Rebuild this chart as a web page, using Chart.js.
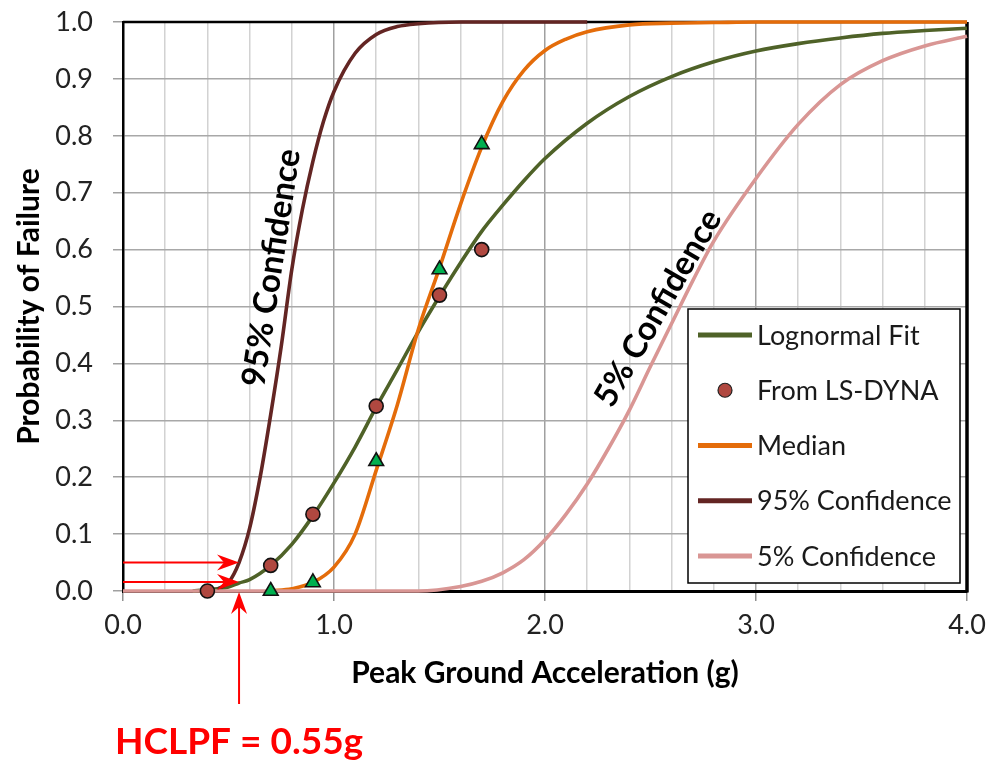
<!DOCTYPE html>
<html><head><meta charset="utf-8">
<script src="https://cdn.jsdelivr.net/npm/chart.js@4.4.0/dist/chart.umd.min.js"></script>
<style>html,body{margin:0;padding:0;background:#fff;}#wrap{width:992px;height:760px;}</style>
</head><body><div id="wrap"><canvas id="c" width="992" height="760"></canvas></div>
<script>
// ---- data ----
const fitX = [0.33,0.4,0.5,0.55,0.6,0.7,0.8,0.9,1.0,1.1,1.2,1.3,1.4,1.5,1.6,1.7,1.8,1.9,2.0,2.2,2.4,2.6,2.8,3.0,3.2,3.4,3.6,3.8,4.0];
const fitY = [0.0,0.002,0.007,0.014,0.02,0.045,0.082,0.132,0.19,0.253,0.323,0.389,0.456,0.518,0.577,0.632,0.678,0.721,0.76,0.822,0.869,0.904,0.93,0.949,0.962,0.972,0.98,0.985,0.989];

const dynaX = [0.4,0.7,0.9,1.2,1.5,1.7];
const dynaY = [0.0,0.045,0.135,0.325,0.52,0.6];

const triX = [0.7,0.9,1.2,1.5,1.7];
const triY = [0.0,0.015,0.228,0.565,0.785];

const medX = [0.7,0.8,0.9,1.0,1.1,1.2,1.3,1.4,1.5,1.6,1.7,1.8,1.9,2.0,2.1,2.2,2.4,2.6,2.8,3.0,3.5,4.0];
const medY = [0.0,0.004,0.015,0.042,0.10,0.212,0.327,0.46,0.568,0.68,0.78,0.86,0.915,0.95,0.97,0.983,0.995,0.998,0.999,1.0,1.0,1.0];

const c95X = [0.45,0.5,0.55,0.6,0.65,0.7,0.75,0.8,0.85,0.9,0.95,1.0,1.1,1.2,1.3,1.4,1.6,2.2];
const c95Y = [0.004,0.015,0.05,0.11,0.2,0.31,0.43,0.565,0.67,0.755,0.825,0.878,0.945,0.978,0.992,0.997,1.0,1.0];

const c5X = [0.0,1.4,1.6,1.7,1.8,1.9,2.0,2.1,2.2,2.3,2.4,2.5,2.6,2.7,2.8,3.0,3.2,3.4,3.6,3.8,4.0];
const c5Y = [0.0,0.0,0.008,0.017,0.032,0.055,0.09,0.135,0.188,0.25,0.318,0.395,0.47,0.545,0.615,0.725,0.82,0.89,0.932,0.958,0.975];

const xTickLabels = ['0.0','1.0','2.0','3.0','4.0'];
const hclpf = 0.55;
const arrowLevels = [0.05, 0.016];
const hclpfText = 'HCLPF = 0.55g';
const curveLabels = [
  {text:'95% Confidence', x:0.704, y:0.568, angle:-81.3},
  {text:'5% Confidence',  x:2.536, y:0.497, angle:-60}
];

// ---- chart ----
const FONT = "Lato, 'Liberation Sans', sans-serif";
const xy = (xs, ys) => xs.map((x, i) => ({x: x, y: ys[i]}));
const isInt = v => Math.abs(v - Math.round(v)) < 1e-6;

const curve = (label, xs, ys, color, rank) => ({
  label, data: xy(xs, ys), borderColor: color, backgroundColor: color,
  borderWidth: 3.6, pointRadius: 0, showLine: true, fill: false,
  cubicInterpolationMode: 'monotone', clip: false, legendRank: rank
});

const datasets = [
  {label:'From LS-DYNA', data: xy(dynaX, dynaY), showLine:false, pointStyle:'circle',
   pointRadius:7, pointBackgroundColor:'#B04840', pointBorderColor:'#111', pointBorderWidth:1.6,
   borderColor:'#111', backgroundColor:'#B04840', clip:false, legendRank:1},
  {label:'', data: xy(triX, triY), showLine:false, pointStyle:'triangle',
   pointRadius:8.5, pointBackgroundColor:'#00B050', pointBorderColor:'#111', pointBorderWidth:1.6,
   clip:false},
  curve('5% Confidence', c5X, c5Y, '#D99694', 4),
  curve('95% Confidence', c95X, c95Y, '#632523', 3),
  curve('Median', medX, medY, '#E46C0A', 2),
  curve('Lognormal Fit', fitX, fitY, '#4F6228', 0)
];

function arrowHead(ctx, tx, ty, dx, dy) {
  const L = 22, W = 8, back = 15;
  const px = -dy, py = dx;
  ctx.beginPath();
  ctx.moveTo(tx, ty);
  ctx.lineTo(tx - dx*L + px*W, ty - dy*L + py*W);
  ctx.lineTo(tx - dx*back, ty - dy*back);
  ctx.lineTo(tx - dx*L - px*W, ty - dy*L - py*W);
  ctx.closePath();
  ctx.fill();
}

const decor = {
  id: 'decor',
  beforeDatasetsDraw(chart) {
    const {ctx, chartArea: a} = chart;
    ctx.save();
    ctx.strokeStyle = '#000';
    ctx.lineWidth = 2.5;
    ctx.beginPath(); ctx.moveTo(a.left, a.top); ctx.lineTo(a.right, a.top); ctx.stroke();
    ctx.lineWidth = 3.5;
    ctx.beginPath(); ctx.moveTo(a.right, a.top); ctx.lineTo(a.right, a.bottom + 1.5); ctx.stroke();
    ctx.restore();
  },
  afterDatasetsDraw(chart) {
    const {ctx, chartArea: a, scales: {x, y}} = chart;
    ctx.save();
    // curve labels
    ctx.fillStyle = '#000';
    ctx.font = 'normal normal bold 33px ' + FONT;
    ctx.textAlign = 'center'; ctx.textBaseline = 'middle';
    curveLabels.forEach(l => {
      ctx.save();
      ctx.translate(x.getPixelForValue(l.x), y.getPixelForValue(l.y));
      ctx.rotate(l.angle * Math.PI / 180);
      ctx.fillText(l.text, 0, 0);
      ctx.restore();
    });
    // legend
    const bw = 272, bh = 274;
    const bx = a.right - 279, by = a.top + 287;
    ctx.fillStyle = '#fff';
    ctx.fillRect(bx, by, bw, bh);
    ctx.strokeStyle = '#000'; ctx.lineWidth = 1.5;
    ctx.strokeRect(bx, by, bw, bh);
    const items = chart.data.datasets.filter(d => d.legendRank !== undefined)
      .sort((p, q) => p.legendRank - q.legendRank);
    ctx.font = '27px ' + FONT;
    ctx.textAlign = 'left'; ctx.textBaseline = 'middle';
    items.forEach((d, i) => {
      const cy = by + 26 + i * 55.25;
      if (d.showLine) {
        ctx.strokeStyle = d.borderColor; ctx.lineWidth = 5;
        ctx.beginPath(); ctx.moveTo(bx + 10, cy); ctx.lineTo(bx + 64, cy); ctx.stroke();
      } else {
        ctx.fillStyle = d.pointBackgroundColor; ctx.strokeStyle = '#222'; ctx.lineWidth = 1.2;
        ctx.beginPath(); ctx.arc(bx + 37, cy, 7, 0, Math.PI * 2); ctx.fill(); ctx.stroke();
      }
      ctx.fillStyle = '#1a1a1a';
      ctx.fillText(d.label, bx + 69, cy + 1);
    });
    // HCLPF arrows
    const hx = x.getPixelForValue(hclpf);
    ctx.strokeStyle = '#FF0000'; ctx.fillStyle = '#FF0000'; ctx.lineWidth = 2;
    arrowLevels.forEach(v => {
      const py = y.getPixelForValue(v);
      ctx.beginPath(); ctx.moveTo(a.left, py); ctx.lineTo(hx - 10, py); ctx.stroke();
      arrowHead(ctx, hx, py, 1, 0);
    });
    const tipY = y.getPixelForValue(0) + 1;
    ctx.beginPath(); ctx.moveTo(hx, tipY + 112); ctx.lineTo(hx, tipY + 10); ctx.stroke();
    arrowHead(ctx, hx, tipY, 0, -1);
    ctx.font = 'bold 37px ' + FONT;
    ctx.textAlign = 'center'; ctx.textBaseline = 'alphabetic';
    ctx.fillText(hclpfText, hx, 754);
    ctx.restore();
  }
};

new Chart(document.getElementById('c'), {
  type: 'line',
  data: {datasets},
  options: {
    responsive: false, animation: false, devicePixelRatio: 1,
    layout: {padding: {left: 0, top: 22, right: 25, bottom: 69}},
    plugins: {legend: {display: false}, tooltip: {enabled: false}},
    scales: {
      x: {
        type: 'linear', min: 0, max: 4, position: 'bottom',
        afterFit: s => { s.height = 100; s.paddingRight = 0; s.paddingLeft = 0; },
        ticks: {
          stepSize: 0.2, autoSkip: false, maxRotation: 0, padding: 8,
          color: '#222', font: {family: FONT, size: 27},
          callback: v => isInt(v) ? xTickLabels[Math.round(v)] : ''
        },
        grid: {
          color: c => (c.tick && isInt(c.tick.value)) ? '#a0a0a0' : '#d2d2d2',
          lineWidth: 1.5, tickLength: 10,
          tickColor: c => (c.tick && isInt(c.tick.value)) ? '#909090' : 'rgba(0,0,0,0)'
        },
        border: {display: true, color: '#000', width: 3},
        title: {display: true, text: 'Peak Ground Acceleration (g)', color: '#000',
                font: {family: FONT, size: 30, weight: 'bold'}, padding: {top: 0, bottom: 0}}
      },
      y: {
        min: 0, max: 1,
        afterFit: s => { s.width = 123; s.paddingTop = 0; s.paddingBottom = 0; },
        ticks: {stepSize: 0.1, padding: 20, color: '#222', font: {family: FONT, size: 27},
                callback: v => v.toFixed(1)},
        grid: {color: '#a8a8a8', lineWidth: 1.5, tickLength: 10, tickColor: '#a0a0a0'},
        border: {display: true, color: '#000', width: 2.5},
        title: {display: true, text: 'Probability of Failure', color: '#000',
                font: {family: FONT, size: 30, weight: 'bold'}, padding: {top: 11, bottom: 0}}
      }
    }
  },
  plugins: [decor]
});
</script></body></html>
